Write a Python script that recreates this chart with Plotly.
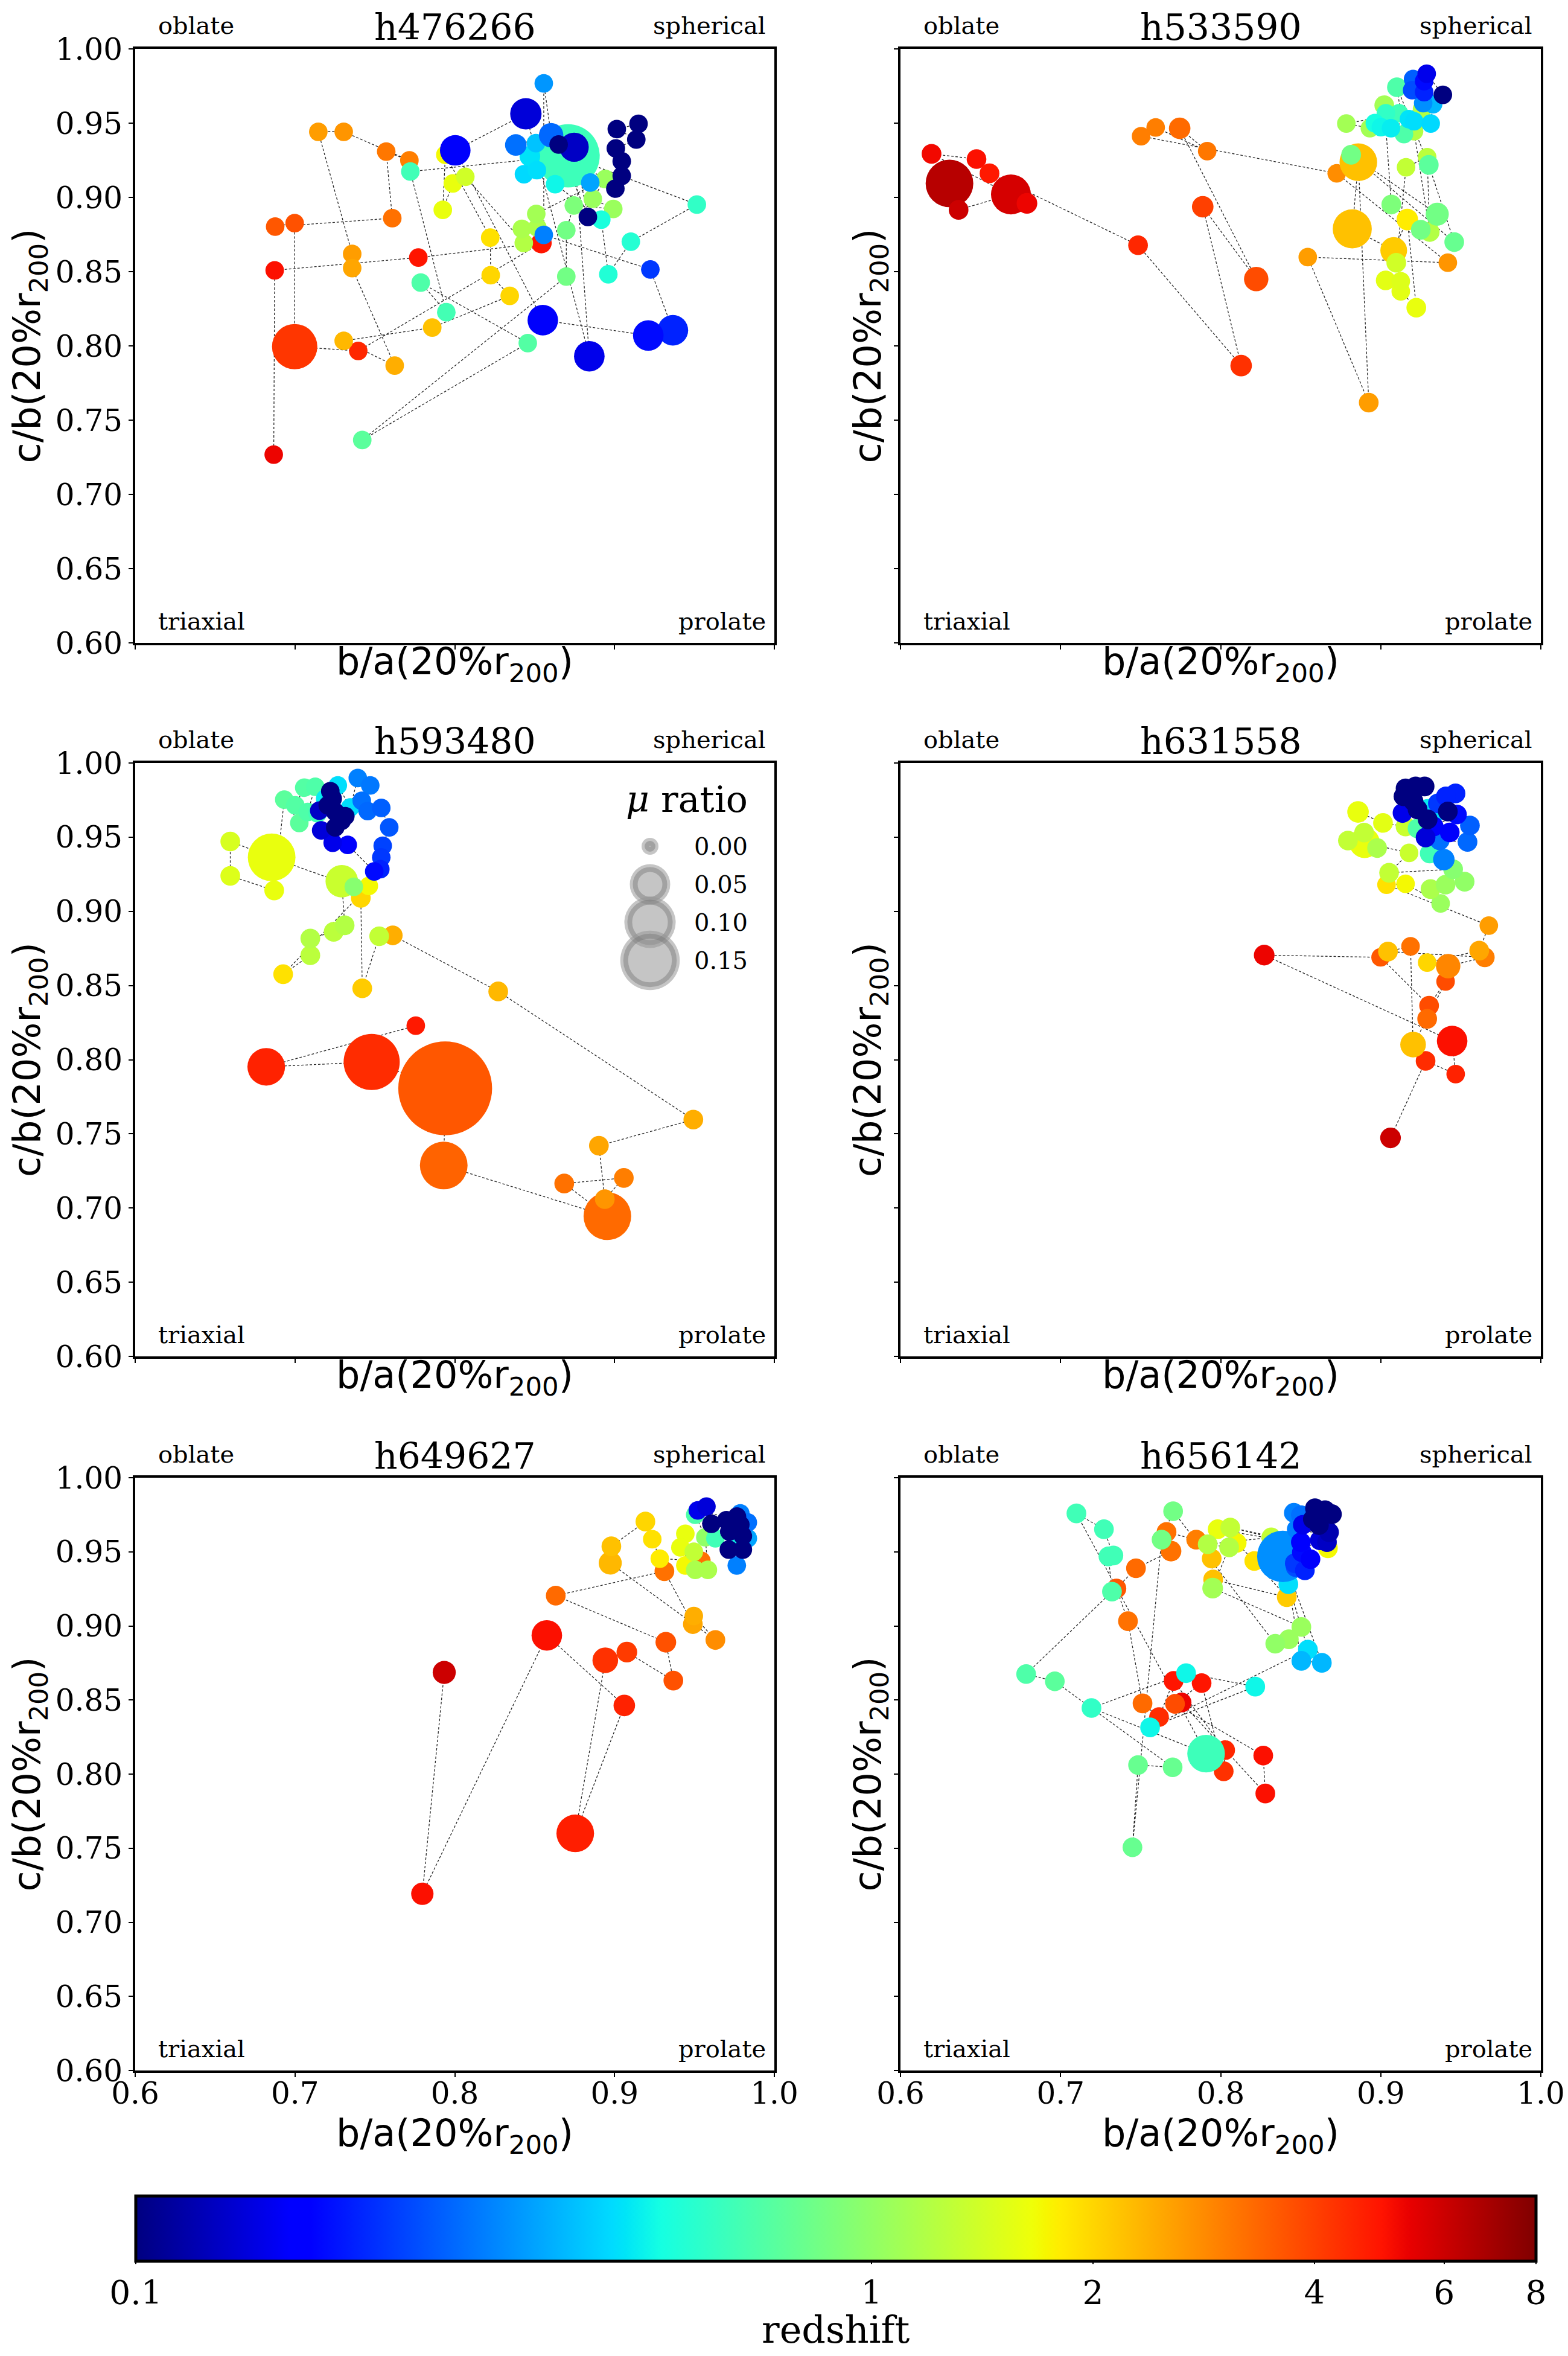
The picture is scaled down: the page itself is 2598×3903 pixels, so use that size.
"""Halo shape evolution: c/b vs b/a at 20% r200, coloured by redshift, sized by merger ratio."""

import numpy as np
import plotly.graph_objects as go
from plotly.subplots import make_subplots

SERIF = "DejaVu Serif"
SANS = "DejaVu Sans"

HALO_NAMES = ["h476266", "h533590", "h593480", "h631558", "h649627", "h656142"]

# rows: (b/a, c/b, redshift, mu ratio), in time order (high z first)
H476266 = [
    (0.6867, 0.7268, 5.3, 0.001), (0.6873, 0.8509, 5.0, 0.001), (0.7772, 0.8595, 4.9, 0.001),
    (0.8542, 0.8693, 4.9, 0.003), (0.7396, 0.7966, 4.5, 0.001), (0.6998, 0.7995, 4.2, 0.070),
    (0.6998, 0.8827, 3.7, 0.001), (0.6876, 0.8803, 3.6, 0.001), (0.7609, 0.8860, 3.2, 0.001),
    (0.7571, 0.9308, 3.1, 0.001), (0.7716, 0.9249, 3.0, 0.001), (0.7305, 0.9442, 2.7, 0.001),
    (0.7146, 0.9442, 2.6, 0.001), (0.7358, 0.8619, 2.6, 0.001), (0.7358, 0.8524, 2.5, 0.001),
    (0.7624, 0.7867, 2.4, 0.001), (0.7305, 0.8034, 2.3, 0.001), (0.7859, 0.8123, 2.2, 0.001),
    (0.8344, 0.8337, 2.0, 0.001), (0.8225, 0.8476, 2.0, 0.001), (0.8222, 0.8729, 1.9, 0.001),
    (0.7941, 0.9287, 1.7, 0.001), (0.7925, 0.8916, 1.6, 0.001), (0.7988, 0.9094, 1.6, 0.001),
    (0.8066, 0.9139, 1.4, 0.001), (0.8432, 0.8693, 1.2, 0.001), (0.8420, 0.8788, 1.15, 0.001),
    (0.8517, 0.8797, 1.15, 0.001), (0.8510, 0.8889, 1.1, 0.001), (0.8942, 0.9124, 1.05, 0.001),
    (0.8864, 0.8990, 1.05, 0.001), (0.8992, 0.8922, 1.05, 0.001), (0.8745, 0.8946, 0.9, 0.001),
    (0.8698, 0.8779, 0.85, 0.001), (0.8698, 0.8467, 0.85, 0.001), (0.7421, 0.7366, 0.75, 0.001),
    (0.8457, 0.8019, 0.72, 0.001), (0.7787, 0.8426, 0.70, 0.001), (0.7947, 0.8227, 0.66, 0.001),
    (0.7722, 0.9174, 0.65, 0.001), (0.8709, 0.9280, 0.64, 0.178), (0.9515, 0.8952, 0.60, 0.001),
    (0.9102, 0.8702, 0.56, 0.001), (0.8961, 0.8482, 0.55, 0.001), (0.8917, 0.8850, 0.53, 0.001),
    (0.8628, 0.9089, 0.50, 0.001), (0.8470, 0.9277, 0.46, 0.003), (0.8433, 0.9156, 0.44, 0.001),
    (0.8514, 0.9183, 0.45, 0.001), (0.8508, 0.9365, 0.40, 0.001), (0.8848, 0.9100, 0.35, 0.001),
    (0.8382, 0.9353, 0.28, 0.004), (0.8603, 0.9419, 0.27, 0.008), (0.8557, 0.9768, 0.33, 0.001),
    (0.8557, 0.8747, 0.30, 0.001), (0.9224, 0.8515, 0.22, 0.001), (0.9365, 0.8105, 0.20, 0.020),
    (0.9211, 0.8070, 0.18, 0.020), (0.8551, 0.8173, 0.16, 0.020), (0.8003, 0.9317, 0.16, 0.020),
    (0.8445, 0.9563, 0.14, 0.022), (0.8842, 0.7930, 0.15, 0.020), (0.8747, 0.9338, 0.13, 0.017),
    (0.8833, 0.8868, 0.10, 0.001), (0.8650, 0.9356, 0.10, 0.001), (0.9005, 0.9059, 0.10, 0.001),
    (0.9045, 0.9145, 0.10, 0.001), (0.9045, 0.9243, 0.10, 0.001), (0.9008, 0.9330, 0.10, 0.001),
    (0.9136, 0.9390, 0.10, 0.001), (0.9014, 0.9460, 0.10, 0.001), (0.9150, 0.9495, 0.10, 0.001),
]

H533590 = [
    (0.6306, 0.9094, 6.5, 0.081), (0.6363, 0.8916, 6.0, 0.002), (0.6690, 0.9020, 5.8, 0.048),
    (0.6790, 0.8960, 5.3, 0.003), (0.6194, 0.9293, 5.2, 0.002), (0.6475, 0.9258, 5.0, 0.002),
    (0.6556, 0.9162, 4.8, 0.002), (0.7484, 0.8678, 4.5, 0.002), (0.8128, 0.7867, 4.3, 0.004),
    (0.7888, 0.8937, 4.0, 0.004), (0.8222, 0.8450, 3.8, 0.008), (0.7744, 0.9465, 3.3, 0.004),
    (0.7916, 0.9311, 3.1, 0.001), (0.7594, 0.9471, 3.0, 0.001), (0.7503, 0.9412, 3.0, 0.001),
    (0.8725, 0.9162, 2.8, 0.001), (0.9419, 0.8560, 2.7, 0.001), (0.8544, 0.8598, 2.6, 0.001),
    (0.8925, 0.7618, 2.6, 0.002), (0.8860, 0.9237, 2.2, 0.040), (0.8822, 0.8788, 2.2, 0.045),
    (0.9081, 0.8643, 2.1, 0.012), (0.9166, 0.8851, 1.8, 0.004), (0.9222, 0.8257, 1.6, 0.002),
    (0.9125, 0.8367, 1.55, 0.001), (0.9031, 0.8441, 1.55, 0.002), (0.9125, 0.8435, 1.5, 0.001),
    (0.9097, 0.8560, 1.4, 0.002), (0.9158, 0.9203, 1.3, 0.001), (0.9290, 0.9271, 1.25, 0.001),
    (0.9306, 0.8767, 1.2, 0.002), (0.9208, 0.9446, 1.2, 0.001), (0.9258, 0.9594, 1.2, 0.001),
    (0.8785, 0.9497, 1.1, 0.001), (0.8932, 0.9466, 1.1, 0.001), (0.9022, 0.9621, 1.1, 0.002),
    (0.9066, 0.8952, 0.9, 0.002), (0.9250, 0.8782, 0.85, 0.002), (0.9353, 0.8887, 0.85, 0.006),
    (0.8815, 0.9287, 0.85, 0.002), (0.9459, 0.8699, 0.8, 0.002), (0.9300, 0.9219, 0.75, 0.002),
    (0.9101, 0.9742, 0.7, 0.002), (0.9145, 0.9426, 0.7, 0.001), (0.9114, 0.9567, 0.65, 0.001),
    (0.9032, 0.9567, 0.6, 0.001), (0.8963, 0.9500, 0.52, 0.001), (0.9001, 0.9473, 0.5, 0.001),
    (0.9064, 0.9466, 0.48, 0.001), (0.9176, 0.9527, 0.46, 0.001), (0.9208, 0.9513, 0.45, 0.001),
    (0.9312, 0.9497, 0.44, 0.001), (0.9327, 0.9628, 0.38, 0.001), (0.9265, 0.9635, 0.32, 0.001),
    (0.9202, 0.9797, 0.26, 0.001), (0.9196, 0.9722, 0.24, 0.001), (0.9271, 0.9709, 0.2, 0.001),
    (0.9271, 0.9783, 0.18, 0.001), (0.9287, 0.9833, 0.15, 0.001), (0.9388, 0.9691, 0.1, 0.001),
]

H593480 = [
    (0.7756, 0.8229, 4.8, 0.001), (0.6820, 0.7952, 4.6, 0.040), (0.7480, 0.7985, 4.4, 0.128),
    (0.7940, 0.7807, 3.6, 0.500), (0.7931, 0.7287, 3.4, 0.081), (0.8955, 0.6945, 3.3, 0.081),
    (0.8685, 0.7165, 3.2, 0.002), (0.9058, 0.7203, 3.0, 0.002), (0.8939, 0.7060, 2.7, 0.002),
    (0.8902, 0.7420, 2.5, 0.002), (0.9493, 0.7596, 2.4, 0.002), (0.8272, 0.8460, 2.3, 0.002),
    (0.7612, 0.8838, 2.4, 0.002), (0.7527, 0.8832, 1.3, 0.002), (0.7421, 0.8481, 2.1, 0.002),
    (0.7412, 0.9091, 2.0, 0.002), (0.7462, 0.9171, 1.7, 0.001), (0.6926, 0.8576, 1.9, 0.002),
    (0.7096, 0.8704, 1.25, 0.002), (0.7096, 0.8817, 1.2, 0.002), (0.7242, 0.8862, 1.25, 0.002),
    (0.7311, 0.8906, 1.2, 0.002), (0.7293, 0.9203, 1.35, 0.025), (0.7368, 0.9165, 0.95, 0.001),
    (0.6854, 0.9364, 1.6, 0.081), (0.6595, 0.9471, 1.45, 0.002), (0.6595, 0.9239, 1.5, 0.002),
    (0.6870, 0.9141, 1.6, 0.002), (0.6933, 0.9753, 0.75, 0.001), (0.7027, 0.9596, 0.75, 0.001),
    (0.7002, 0.9715, 0.72, 0.001), (0.7058, 0.9834, 0.72, 0.001), (0.7127, 0.9840, 0.70, 0.001),
    (0.7080, 0.9670, 0.70, 0.001), (0.7142, 0.9661, 0.65, 0.001), (0.7189, 0.9759, 0.48, 0.001),
    (0.7268, 0.9849, 0.45, 0.001), (0.7346, 0.9700, 0.45, 0.001), (0.7393, 0.9899, 0.30, 0.001),
    (0.7471, 0.9849, 0.29, 0.001), (0.7418, 0.9745, 0.28, 0.001), (0.7455, 0.9676, 0.27, 0.001),
    (0.7540, 0.9697, 0.26, 0.001), (0.7590, 0.9566, 0.25, 0.001), (0.7549, 0.9442, 0.23, 0.001),
    (0.7540, 0.9364, 0.22, 0.001), (0.7534, 0.9284, 0.20, 0.001), (0.7496, 0.9269, 0.18, 0.001),
    (0.7330, 0.9448, 0.16, 0.001), (0.7236, 0.9462, 0.15, 0.001), (0.7164, 0.9546, 0.14, 0.001),
    (0.7152, 0.9679, 0.13, 0.001), (0.7221, 0.9810, 0.10, 0.001), (0.7236, 0.9759, 0.10, 0.001),
    (0.7205, 0.9715, 0.10, 0.001), (0.7252, 0.9670, 0.10, 0.001), (0.7315, 0.9641, 0.10, 0.001),
    (0.7293, 0.9611, 0.10, 0.001), (0.7252, 0.9566, 0.10, 0.001),
]

H631558 = [
    (0.9061, 0.7473, 6.0, 0.003), (0.9280, 0.7992, 4.4, 0.002), (0.9468, 0.7903, 4.6, 0.001),
    (0.9446, 0.8126, 5.0, 0.020), (0.8272, 0.8705, 5.3, 0.003), (0.8999, 0.8690, 3.6, 0.001),
    (0.9302, 0.8364, 3.8, 0.002), (0.9405, 0.8527, 3.8, 0.001), (0.9290, 0.8275, 3.3, 0.002),
    (0.9202, 0.8102, 2.2, 0.010), (0.9186, 0.8764, 3.2, 0.001), (0.9045, 0.8729, 2.2, 0.002),
    (0.9650, 0.8690, 3.0, 0.002), (0.9421, 0.8631, 2.9, 0.008), (0.9290, 0.8655, 2.0, 0.001),
    (0.9615, 0.8735, 2.5, 0.002), (0.9675, 0.8904, 2.6, 0.001), (0.9036, 0.9180, 1.9, 0.001),
    (0.9155, 0.9186, 1.7, 0.001), (0.9374, 0.9053, 1.05, 0.001), (0.9311, 0.9150, 1.15, 0.002),
    (0.9405, 0.9180, 1.05, 0.002), (0.9524, 0.9200, 1.0, 0.002), (0.9452, 0.9284, 0.95, 0.002),
    (0.9052, 0.9260, 1.3, 0.002), (0.9177, 0.9394, 1.35, 0.001), (0.8899, 0.9462, 1.6, 0.020),
    (0.8795, 0.9477, 1.3, 0.002), (0.8896, 0.9531, 1.3, 0.002), (0.8977, 0.9427, 1.15, 0.002),
    (0.8858, 0.9670, 1.6, 0.004), (0.9014, 0.9596, 1.55, 0.002), (0.9155, 0.9572, 1.35, 0.002),
    (0.9230, 0.9559, 0.7, 0.002), (0.9306, 0.9390, 0.65, 0.002), (0.9293, 0.9687, 0.48, 0.003),
    (0.9327, 0.9655, 0.45, 0.003), (0.9394, 0.9349, 0.30, 0.004), (0.9368, 0.9478, 0.28, 0.002),
    (0.9542, 0.9468, 0.27, 0.002), (0.9557, 0.9579, 0.26, 0.002), (0.9357, 0.9728, 0.22, 0.002),
    (0.9467, 0.9795, 0.20, 0.002), (0.9407, 0.9775, 0.20, 0.002), (0.9476, 0.9653, 0.18, 0.002),
    (0.9331, 0.9572, 0.17, 0.002), (0.9431, 0.9532, 0.16, 0.002), (0.9136, 0.9663, 0.15, 0.002),
    (0.9280, 0.9498, 0.14, 0.002), (0.9419, 0.9673, 0.10, 0.002), (0.9293, 0.9620, 0.10, 0.002),
    (0.9230, 0.9687, 0.10, 0.002), (0.9205, 0.9741, 0.10, 0.002), (0.9142, 0.9775, 0.10, 0.002),
    (0.9274, 0.9842, 0.10, 0.002), (0.9218, 0.9842, 0.10, 0.002), (0.9155, 0.9829, 0.10, 0.002),
]

H649627 = [
    (0.7934, 0.8686, 6.0, 0.006), (0.7797, 0.7192, 5.0, 0.005), (0.8576, 0.8936, 5.0, 0.020),
    (0.9061, 0.8463, 4.6, 0.004), (0.8754, 0.7600, 4.7, 0.040), (0.8942, 0.8768, 4.3, 0.010),
    (0.9077, 0.8823, 4.1, 0.003), (0.9368, 0.8631, 3.7, 0.002), (0.9321, 0.8890, 3.7, 0.003),
    (0.8632, 0.9204, 3.3, 0.002), (0.9312, 0.9369, 3.2, 0.002), (0.9490, 0.9012, 2.5, 0.002),
    (0.9496, 0.9067, 2.4, 0.001), (0.9631, 0.8905, 2.8, 0.002), (0.8973, 0.9424, 2.3, 0.006),
    (0.8980, 0.9537, 2.2, 0.002), (0.9193, 0.9704, 2.0, 0.002), (0.9236, 0.9585, 1.9, 0.001),
    (0.9283, 0.9454, 1.8, 0.001), (0.9543, 0.9439, 3.2, 0.001), (0.9443, 0.9408, 1.7, 0.001),
    (0.9443, 0.9622, 1.6, 0.001), (0.9412, 0.9530, 1.6, 0.001), (0.9496, 0.9500, 1.3, 0.001),
    (0.9505, 0.9378, 1.15, 0.001), (0.9584, 0.9378, 1.15, 0.001), (0.9568, 0.9598, 1.0, 0.001),
    (0.9505, 0.9750, 0.7, 0.001), (0.9631, 0.9591, 0.65, 0.001), (0.9787, 0.9591, 0.5, 0.001),
    (0.9834, 0.9591, 0.35, 0.001), (0.9765, 0.9408, 0.3, 0.001), (0.9787, 0.9759, 0.3, 0.001),
    (0.9834, 0.9698, 0.28, 0.001), (0.9521, 0.9780, 0.15, 0.001), (0.9575, 0.9805, 0.14, 0.001),
    (0.9606, 0.9689, 0.1, 0.001), (0.9700, 0.9713, 0.1, 0.001), (0.9766, 0.9738, 0.1, 0.001),
    (0.9718, 0.9637, 0.1, 0.001), (0.9803, 0.9607, 0.1, 0.001), (0.9715, 0.9515, 0.1, 0.001),
    (0.9803, 0.9515, 0.1, 0.001), (0.9787, 0.9683, 0.1, 0.001),
]

H656142 = [
    (0.7756, 0.8483, 5.3, 0.002), (0.8279, 0.7869, 5.0, 0.002), (0.8266, 0.8125, 5.0, 0.002),
    (0.7715, 0.8474, 3.8, 0.002), (0.7881, 0.8614, 4.9, 0.002), (0.8019, 0.8019, 4.3, 0.002),
    (0.8028, 0.8162, 4.5, 0.002), (0.7706, 0.8629, 4.9, 0.002), (0.7615, 0.8385, 4.4, 0.002),
    (0.7512, 0.8477, 3.3, 0.002), (0.7421, 0.9032, 3.2, 0.002), (0.7349, 0.9252, 3.6, 0.002),
    (0.7471, 0.9389, 3.3, 0.002), (0.7690, 0.9505, 3.2, 0.003), (0.7662, 0.9634, 3.2, 0.002),
    (0.7847, 0.9582, 3.0, 0.002), (0.7944, 0.9454, 2.2, 0.002), (0.7953, 0.9313, 2.2, 0.002),
    (0.8413, 0.9194, 2.1, 0.002), (0.8210, 0.9438, 1.9, 0.002), (0.8100, 0.9560, 1.7, 0.002),
    (0.7981, 0.9652, 1.6, 0.002), (0.8670, 0.9524, 1.7, 0.002), (0.8060, 0.9664, 1.3, 0.002),
    (0.8316, 0.9597, 1.3, 0.002), (0.7919, 0.9551, 1.2, 0.002), (0.8053, 0.9530, 1.2, 0.002),
    (0.7950, 0.9255, 1.1, 0.003), (0.8504, 0.8993, 1.05, 0.002), (0.8426, 0.8910, 1.05, 0.002),
    (0.8341, 0.8880, 1.0, 0.002), (0.7703, 0.9774, 0.85, 0.002), (0.7631, 0.9582, 0.85, 0.002),
    (0.7449, 0.7506, 0.8, 0.002), (0.7484, 0.8061, 0.8, 0.002), (0.7700, 0.8046, 0.8, 0.002),
    (0.6964, 0.8626, 0.75, 0.002), (0.6785, 0.8675, 0.7, 0.002), (0.7321, 0.9231, 0.7, 0.002),
    (0.7299, 0.9469, 0.65, 0.002), (0.7330, 0.9475, 0.65, 0.002), (0.7271, 0.9652, 0.65, 0.002),
    (0.7099, 0.9759, 0.65, 0.002), (0.7909, 0.8138, 0.64, 0.040), (0.7193, 0.8446, 0.6, 0.002),
    (0.7784, 0.8681, 0.5, 0.002), (0.8216, 0.8590, 0.5, 0.002), (0.7559, 0.8315, 0.5, 0.002),
    (0.8545, 0.8840, 0.45, 0.002), (0.8423, 0.9281, 0.45, 0.002), (0.8504, 0.8764, 0.38, 0.002),
    (0.8632, 0.8751, 0.38, 0.002), (0.8388, 0.9469, 0.32, 0.100), (0.8457, 0.9763, 0.3, 0.002),
    (0.8501, 0.9747, 0.28, 0.002), (0.8475, 0.9652, 0.3, 0.002), (0.8469, 0.9396, 0.24, 0.002),
    (0.8463, 0.9423, 0.22, 0.002), (0.8526, 0.9375, 0.2, 0.002), (0.8507, 0.9497, 0.18, 0.002),
    (0.8501, 0.9565, 0.17, 0.002), (0.8561, 0.9450, 0.16, 0.002), (0.8513, 0.9682, 0.15, 0.002),
    (0.8620, 0.9578, 0.14, 0.002), (0.8664, 0.9565, 0.13, 0.002), (0.8677, 0.9632, 0.12, 0.002),
    (0.8576, 0.9720, 0.1, 0.002), (0.8614, 0.9680, 0.1, 0.002), (0.8589, 0.9794, 0.1, 0.002),
    (0.8652, 0.9781, 0.1, 0.002), (0.8695, 0.9754, 0.1, 0.002),
]

HALO_ROWS = [H476266, H533590, H593480, H631558, H649627, H656142]

X_TICKS = [0.6, 0.7, 0.8, 0.9, 1.0]
Y_TICKS = [0.6, 0.65, 0.7, 0.75, 0.8, 0.85, 0.9, 0.95, 1.0]
Z_TICKS = [0.1, 1, 2, 4, 6, 8]
Z_TICK_TEXT = ["0.1", "1", "2", "4", "6", "8"]
MU_LEGEND = [0.0, 0.05, 0.10, 0.15]
MU_LEGEND_TEXT = ["0.00", "0.05", "0.10", "0.15"]


def marker_diameter(mu):
    return np.sqrt(28.0 ** 2 + 40700.0 * np.power(np.asarray(mu, dtype=float), 0.8))


def jet_scale():
    # matplotlib "jet" as piecewise linear stops
    stops = [0, 0.11, 0.125, 0.34, 0.35, 0.375, 0.64, 0.65, 0.66, 0.89, 0.91, 1.0]
    out = []
    for f in stops:
        r = np.interp(f, [0, 0.35, 0.66, 0.89, 1], [0, 0, 1, 1, 0.5])
        g = np.interp(f, [0, 0.125, 0.375, 0.64, 0.91, 1], [0, 0, 1, 1, 0, 0])
        b = np.interp(f, [0, 0.11, 0.34, 0.65, 1], [0.5, 1, 1, 0, 0])
        out.append([f, f"rgb({int(round(r * 255))},{int(round(g * 255))},{int(round(b * 255))})"])
    return out


W, H = 2598, 3903
M_L, M_R, M_T, M_B = 216, 53, 73, 481
PLOT_W = W - M_L - M_R
PLOT_H = H - M_T - M_B
BOTTOM = H - M_B

# panel frames in page pixels
COL_PX = [(216, 1275), (1484, 2545)]
ROW_PX = [(73, 1057), (1256, 2239), (2440, 3422)]
X_DOMAINS = [((a - M_L) / PLOT_W, min((b - M_L) / PLOT_W, 1.0)) for a, b in COL_PX]
Y_DOMAINS = [(max((BOTTOM - b) / PLOT_H, 0.0), min((BOTTOM - a) / PLOT_H, 1.0)) for a, b in ROW_PX]

fig = make_subplots(rows=3, cols=2)

for i, (name, rows) in enumerate(zip(HALO_NAMES, HALO_ROWS)):
    r, c = i // 2 + 1, i % 2 + 1
    ba = [p[0] for p in rows]
    cb = [p[1] for p in rows]
    z = np.array([p[2] for p in rows])
    mu = [p[3] for p in rows]
    fig.add_trace(
        go.Scatter(x=ba, y=cb, mode="lines", hoverinfo="skip", showlegend=False,
                   line=dict(color="rgba(0,0,0,0.85)", width=1.3, dash="4px,3px")),
        row=r, col=c,
    )
    fig.add_trace(
        go.Scatter(x=ba, y=cb, mode="markers", showlegend=False,
                   marker=dict(color=np.log10(z), coloraxis="coloraxis",
                               size=marker_diameter(mu), sizemode="diameter",
                               line=dict(width=0), opacity=1)),
        row=r, col=c,
    )

    suffix = "" if i == 0 else str(i + 1)
    xa, ya = f"xaxis{suffix}", f"yaxis{suffix}"
    xd, yd = f"x{suffix} domain", f"y{suffix} domain"
    fig.layout[xa].update(
        domain=X_DOMAINS[c - 1], range=[0.6, 1.0], tickvals=X_TICKS, tickformat=".1f",
        showticklabels=(r == 3), ticks="outside", ticklen=7, tickwidth=1.5, tickcolor="black",
        ticklabelstandoff=-16 if r == 3 else 0,
        showline=True, linewidth=4, linecolor="black", mirror=True, showgrid=False,
        zeroline=False, automargin=False,
        tickfont=dict(family=SERIF, size=50, color="black"),
        title=dict(text="b/a(20%r<sub>200</sub>)", font=dict(family=SANS, size=62, color="black"),
                   standoff=6 if r == 3 else 0),
    )
    fig.layout[ya].update(
        domain=Y_DOMAINS[r - 1], range=[0.6, 1.0], tickvals=Y_TICKS, tickformat=".2f",
        showticklabels=(c == 1), ticks="outside", ticklen=7, tickwidth=1.5, tickcolor="black",
        showline=True, linewidth=4, linecolor="black", mirror=True, showgrid=False,
        zeroline=False, automargin=False,
        tickfont=dict(family=SERIF, size=50, color="black"),
        title=dict(text="c/b(20%r<sub>200</sub>)", font=dict(family=SANS, size=62, color="black"),
                   standoff=10 if c == 1 else 2),
    )

    fig.add_annotation(text=name, xref=xd, yref=yd, x=0.5, y=1.0, xanchor="center",
                       yanchor="bottom", yshift=-1, showarrow=False,
                       font=dict(family=SERIF, size=60, color="black"))
    for label, ax_, ay_, xanc, xsh, ysh in [
        ("oblate", 0.0, 1.0, "left", 36, 14),
        ("spherical", 1.0, 1.0, "right", -12, 14),
        ("triaxial", 0.0, 0.0, "left", 36, 11),
        ("prolate", 1.0, 0.0, "right", -12, 11),
    ]:
        fig.add_annotation(text=label, xref=xd, yref=yd, x=ax_, y=ay_, xanchor=xanc,
                           yanchor="bottom", xshift=xsh, yshift=ysh, showarrow=False,
                           font=dict(family=SERIF, size=40, color="black"))

# mu-ratio size legend in the h593480 panel
fig.add_annotation(text="<i>μ</i> ratio", xref="x3 domain", yref="y3 domain", x=1.0, y=1.0,
                   xanchor="right", yanchor="bottom", xshift=-42, yshift=-97, showarrow=False,
                   font=dict(family=SERIF, size=60, color="black"))
for k, (mu_val, txt) in enumerate(zip(MU_LEGEND, MU_LEGEND_TEXT)):
    cy = -138 - 63 * k
    d = float(marker_diameter(mu_val))
    rad = d / 2
    fig.add_shape(type="circle", xref="x3 domain", yref="y3 domain", xsizemode="pixel",
                  ysizemode="pixel", xanchor=1.0, yanchor=1.0,
                  x0=-206 - rad, x1=-206 + rad, y0=cy - rad, y1=cy + rad,
                  fillcolor="rgba(150,150,150,0.55)", line=dict(width=0))
    ring = max(rad - 9, 4)
    fig.add_shape(type="circle", xref="x3 domain", yref="y3 domain", xsizemode="pixel",
                  ysizemode="pixel", xanchor=1.0, yanchor=1.0,
                  x0=-206 - ring, x1=-206 + ring, y0=cy - ring, y1=cy + ring,
                  fillcolor="rgba(0,0,0,0)", line=dict(width=8, color="rgba(120,120,120,0.45)"))
    fig.add_annotation(text=txt, xref="x3 domain", yref="y3 domain", x=1.0, y=1.0,
                       xanchor="right", yanchor="middle", xshift=-42, yshift=cy,
                       showarrow=False, font=dict(family=SERIF, size=40, color="black"))

# colorbar label placed as text so it stays inside the page
fig.add_annotation(text="redshift", xref="paper", yref="paper", x=0.4985,
                   y=-(3890 - BOTTOM) / PLOT_H, xanchor="center", yanchor="bottom",
                   showarrow=False, font=dict(family=SERIF, size=62, color="black"))

fig.update_layout(
    width=W, height=H,
    margin=dict(l=M_L, r=M_R, t=M_T, b=M_B, autoexpand=False),
    paper_bgcolor="white", plot_bgcolor="white",
    showlegend=False,
    coloraxis=dict(
        colorscale=jet_scale(), cmin=-1.0, cmax=float(np.log10(8)),
        colorbar=dict(
            orientation="h", x=0.4985, xanchor="center", y=-(3630 - BOTTOM) / PLOT_H,
            yanchor="top", len=0.996, lenmode="fraction", thickness=108,
            thicknessmode="pixels", xpad=0, ypad=0, outlinewidth=5, outlinecolor="black",
            tickvals=np.log10(Z_TICKS).tolist(), ticktext=Z_TICK_TEXT,
            ticks="outside", ticklen=3, tickwidth=2, tickcolor="black",
            tickfont=dict(family=SERIF, size=55, color="black"),
        ),
    ),
)

fig.write_html("out.html")
